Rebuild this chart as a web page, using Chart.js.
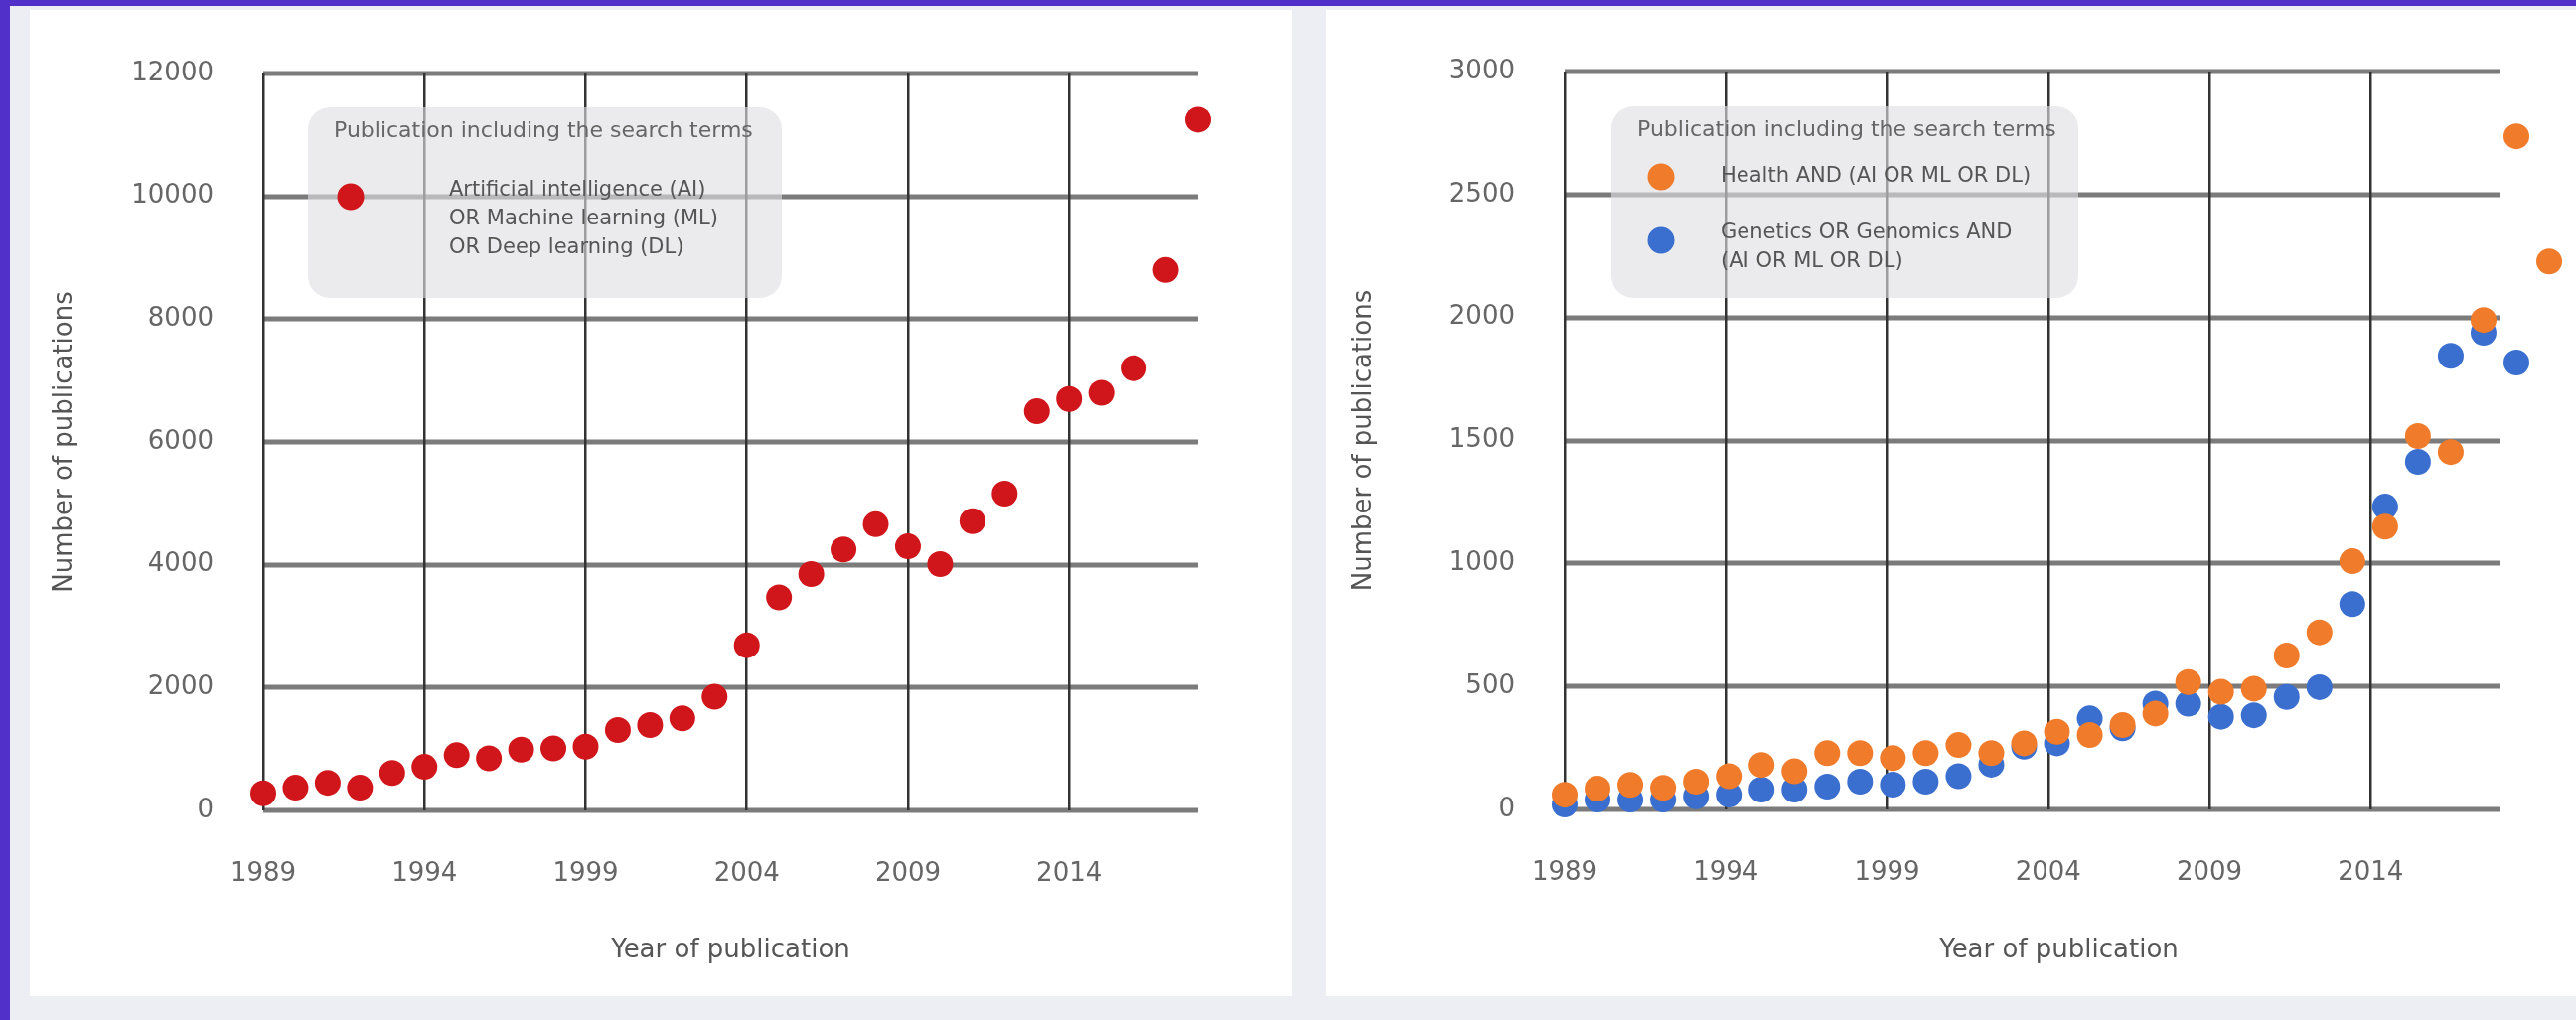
<!DOCTYPE html>
<html>
<head>
<meta charset="utf-8">
<script src="https://cdn.jsdelivr.net/npm/chart.js@4.4.1/dist/chart.umd.min.js"></script>
<style>
    html, body { margin: 0; padding: 0; }
    body { width: 2593px; height: 1027px; background: #eceef3; position: relative; overflow: hidden; }
    .bar-top { position: absolute; left: 0; top: 0; width: 2593px; height: 6px; background: #5030c8; }
    .bar-left { position: absolute; left: 0; top: 0; width: 10px; height: 1027px; background: #5030c8; }
    .panel { position: absolute; background: #fff; }
    #p1 { left: 30px; top: 10px; width: 1271px; height: 993px; }
    #p2 { left: 1335px; top: 10px; width: 1258px; height: 993px; }
    canvas { display: block; position: absolute; }
    #aiChart { left: 14px; top: 8px; }
    #healthChart { left: 1335px; top: 8px; }
</style>
</head>
<body>
<div class="bar-top"></div>
<div class="bar-left"></div>
<div class="panel" id="p1"></div>
<div class="panel" id="p2"></div>
<canvas id="aiChart" width="1286" height="995"></canvas>
<canvas id="healthChart" width="1258" height="995"></canvas>
<script>
const years = [1989, 1990, 1991, 1992, 1993, 1994, 1995, 1996, 1997, 1998,
               1999, 2000, 2001, 2002, 2003, 2004, 2005, 2006, 2007, 2008,
               2009, 2010, 2011, 2012, 2013, 2014, 2015, 2016, 2017, 2018, 2019];
const yearTicks = [1989, 1994, 1999, 2004, 2009, 2014];

// left chart: 1989-2018
const aiPubs = [280, 370, 450, 370, 610, 710, 900, 850, 990, 1010,
                1040, 1310, 1390, 1500, 1850, 2690, 3470, 3850, 4250, 4660,
                4300, 4010, 4710, 5160, 6500, 6700, 6800, 7200, 8800, 11250];
// right chart: health 1989-2019, genetics 1989-2018
const healthPubs = [60, 85, 100, 88, 113, 135, 181, 155, 229, 229,
                    209, 229, 262, 229, 269, 316, 303, 343, 390, 518,
                    478, 491, 626, 720, 1009, 1150, 1518, 1453, 1990, 2737, 2228];
const geneticsPubs = [20, 40, 40, 40, 53, 60, 81, 81, 93, 113,
                      101, 113, 135, 182, 255, 269, 370, 330, 430, 430,
                      377, 383, 457, 497, 835, 1231, 1413, 1844, 1938, 1817];

const aiTicks = [0, 2000, 4000, 6000, 8000, 10000, 12000];
const healthTicks = [0, 500, 1000, 1500, 2000, 2500, 3000];

const legendTitle = 'Publication including the search terms';
const aiLegend = ['Artificial intelligence (AI)', 'OR Machine learning (ML)', 'OR Deep learning (DL)'];
const healthLegend = ['Health AND (AI OR ML OR DL)'];
const geneticsLegend = ['Genetics OR Genomics AND', '(AI OR ML OR DL)'];

const RED = '#d0161a';
const ORANGE = '#f07b2a';
const BLUE = '#3a6fcf';
const FONT = "'DejaVu Sans', sans-serif";

const toPoints = (vals) => vals.map((v, i) => ({ x: years[i], y: v }));

// horizontal grid lines, stopping at the 2018 column
const hGrid = {
    id: 'hGrid',
    beforeDraw(chart) {
        const { ctx, scales: { x, y } } = chart;
        const x0 = x.getPixelForValue(1989);
        const x1 = x.getPixelForValue(2018);
        ctx.save();
        ctx.strokeStyle = '#7b7b7b';
        ctx.lineWidth = 5;
        y.ticks.forEach(t => {
            const py = Math.round(y.getPixelForValue(t.value));
            ctx.beginPath();
            ctx.moveTo(x0, py);
            ctx.lineTo(x1, py);
            ctx.stroke();
        });
        ctx.restore();
    }
};

// gray rounded legend box drawn over the grid
const boxLegend = (cfg) => ({
    id: 'boxLegend',
    beforeDatasetsDraw(chart) {
        const { ctx, chartArea } = chart;
        const x0 = chartArea.left + cfg.dx;
        const y0 = chartArea.top + cfg.dy;
        ctx.save();
        ctx.fillStyle = 'rgba(222, 223, 226, 0.62)';
        ctx.beginPath();
        ctx.roundRect(x0, y0, cfg.w, cfg.h, 22);
        ctx.fill();
        ctx.textBaseline = 'middle';
        ctx.textAlign = 'left';
        ctx.fillStyle = '#666';
        ctx.font = `22px ${FONT}`;
        ctx.fillText(legendTitle, x0 + cfg.titleX, y0 + 24);
        cfg.items.forEach(item => {
            ctx.fillStyle = item.color;
            ctx.beginPath();
            ctx.arc(x0 + cfg.dotX, y0 + item.dotY, 13.5, 0, Math.PI * 2);
            ctx.fill();
            ctx.fillStyle = '#555';
            ctx.font = `21px ${FONT}`;
            item.lines.forEach((line, k) => {
                ctx.fillText(line, x0 + cfg.textX, y0 + item.textY + k * 29);
            });
        });
        ctx.restore();
    }
});

// x: grid + labels, xp: hidden axis the dots are placed on
const makeOptions = (xMax, ptMax, yMax, yTickVals, pad, yWidth, xHeight) => ({
    responsive: false,
    animation: false,
    devicePixelRatio: 1,
    layout: { padding: pad },
    plugins: { legend: { display: false }, tooltip: { enabled: false } },
    scales: {
        x: {
            type: 'linear',
            border: { display: false },
            grid: { color: '#333', lineWidth: 2.5, drawTicks: false },
            ticks: {
                padding: 49,
                color: '#666',
                font: { family: FONT, size: 26 },
                callback: v => String(v)
            },
            afterBuildTicks: scale => {
                scale.ticks = yearTicks.map(v => ({ value: v }));
                scale.min = 1989;
                scale.max = xMax;
            },
            afterFit: scale => { scale.height = xHeight; },
            title: {
                display: true,
                text: 'Year of publication',
                color: '#555',
                font: { family: FONT, size: 26 }
            }
        },
        xp: {
            type: 'linear',
            display: false,
            afterBuildTicks: scale => {
                scale.min = 1989;
                scale.max = ptMax;
            }
        },
        y: {
            min: 0,
            max: yMax,
            border: { display: false },
            grid: { display: false },
            ticks: {
                padding: 42,
                color: '#666',
                font: { family: FONT, size: 26 },
                callback: v => String(v)
            },
            afterBuildTicks: scale => {
                scale.ticks = yTickVals.map(v => ({ value: v }));
            },
            afterFit: scale => { scale.width = yWidth; },
            title: {
                display: true,
                text: 'Number of publications',
                color: '#555',
                font: { family: FONT, size: 26 }
            }
        }
    }
});

const dotSet = (label, vals, color) => ({
    label: label,
    data: toPoints(vals),
    xAxisID: 'xp',
    backgroundColor: color,
    borderWidth: 0,
    pointRadius: 13,
    pointHoverRadius: 13,
    clip: false
});

new Chart(document.getElementById('aiChart'), {
    type: 'scatter',
    data: { datasets: [dotSet(aiLegend.join(' '), aiPubs, RED)] },
    options: makeOptions(2018, 2018, 12000, aiTicks, { left: 32, top: 66, right: 94, bottom: 26 }, 219, 161),
    plugins: [hGrid, boxLegend({
        dx: 45, dy: 34, w: 477, h: 192,
        titleX: 26, dotX: 43, textX: 142,
        items: [{ color: RED, lines: aiLegend, dotY: 90, textY: 84 }]
    })]
});

new Chart(document.getElementById('healthChart'), {
    type: 'scatter',
    data: {
        datasets: [
            dotSet(healthLegend.join(' '), healthPubs, ORANGE),
            dotSet(geneticsLegend.join(' '), geneticsPubs, BLUE)
        ]
    },
    options: makeOptions(2019.66, 2019.12, 3000, healthTicks, { left: 19, top: 64, right: 23, bottom: 26 }, 221, 162),
    plugins: [hGrid, boxLegend({
        dx: 47, dy: 35, w: 470, h: 193,
        titleX: 26, dotX: 50, textX: 110,
        items: [
            { color: ORANGE, lines: healthLegend, dotY: 71, textY: 71 },
            { color: BLUE, lines: geneticsLegend, dotY: 135, textY: 128 }
        ]
    })]
});
</script>
</body>
</html>
